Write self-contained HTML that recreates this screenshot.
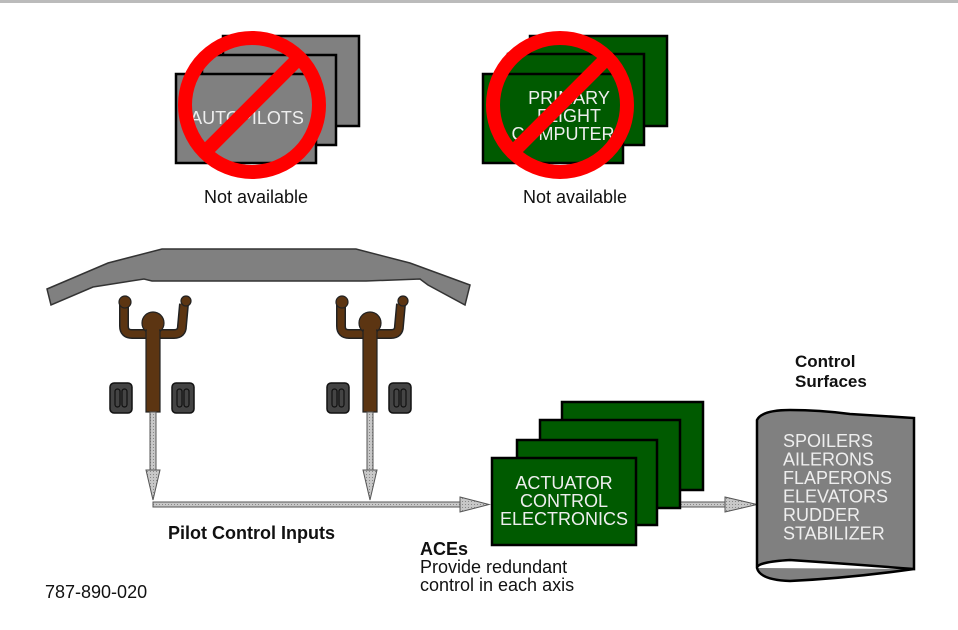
<!DOCTYPE html>
<html><head><meta charset="utf-8"><style>
html,body{margin:0;padding:0;background:#fff;}
svg{display:block;font-family:"Liberation Sans",Arial,sans-serif;}
</style></head><body>
<svg width="958" height="630" viewBox="0 0 958 630" xmlns="http://www.w3.org/2000/svg">
<defs>
<pattern id="dots" width="3" height="3" patternUnits="userSpaceOnUse"><rect width="3" height="3" fill="#c8c8c8"/><rect width="1" height="1" fill="#888"/></pattern>
</defs>
<rect x="0" y="0" width="958" height="3" fill="#bbb"/>

<!-- Autopilots -->
<g stroke="#000" stroke-width="2.5" fill="#808080">
<rect x="223" y="36" width="136" height="90"/>
<rect x="202" y="55" width="134" height="90"/>
<rect x="176" y="74" width="140" height="89"/>
</g>
<text x="247" y="124" fill="#eee" font-size="18" text-anchor="middle">AUTOPILOTS</text>
<g stroke="#f00" stroke-width="14" fill="none">
<circle cx="252" cy="105" r="67"/>
<line x1="204" y1="153" x2="300" y2="57"/>
</g>
<text x="256" y="203" font-size="18" text-anchor="middle" fill="#111">Not available</text>

<!-- PFCs -->
<g stroke="#000" stroke-width="2.5" fill="#005a00">
<rect x="530" y="36" width="137" height="90"/>
<rect x="508" y="54" width="136" height="91"/>
<rect x="483" y="74" width="140" height="89"/>
</g>
<g fill="#eee" font-size="18" text-anchor="middle">
<text x="569" y="104">PRIMARY</text>
<text x="569" y="122">FLIGHT</text>
<text x="569" y="140">COMPUTERS</text>
</g>
<g stroke="#f00" stroke-width="14" fill="none">
<circle cx="560" cy="105" r="67"/>
<line x1="512" y1="153" x2="608" y2="57"/>
</g>
<text x="575" y="203" font-size="18" text-anchor="middle" fill="#111">Not available</text>

<!-- Glare shield -->
<path d="M47,289 L108,263 L162,249 L356,249 L410,263 L470,285 L465,305 L428,285 L420,279 L366,281 L152,281 L144,279 L93,287 L51,305 Z" fill="#808080" stroke="#333" stroke-width="1.5"/>

<!-- Pilots -->
<g id="pilot">
<path d="M124,304 L124,326 Q124,334 132,334 L174,334 Q182,334 182,326 L184,304" fill="none" stroke="#222" stroke-width="10" stroke-linejoin="round"/>
<path d="M124,304 L124,326 Q124,334 132,334 L174,334 Q182,334 182,326 L184,304" fill="none" stroke="#5c3512" stroke-width="7" stroke-linejoin="round"/>
<g fill="#5c3512" stroke="#222" stroke-width="1.2">
<circle cx="125" cy="302" r="6"/>
<circle cx="186" cy="301" r="5"/>
<circle cx="153" cy="323" r="11"/>
<rect x="146" y="330" width="14" height="82"/>
</g>
<rect x="147" y="329" width="12" height="8" fill="#5c3512"/>
<g fill="#444" stroke="#111" stroke-width="1.5">
<rect x="110" y="383" width="22" height="30" rx="4"/>
<rect x="172" y="383" width="22" height="30" rx="4"/>
</g>
<g fill="none" stroke="#111" stroke-width="1.2">
<rect x="115" y="389" width="5" height="18" rx="2.5"/><rect x="122" y="389" width="5" height="18" rx="2.5"/>
<rect x="177" y="389" width="5" height="18" rx="2.5"/><rect x="184" y="389" width="5" height="18" rx="2.5"/>
</g>
</g>
<use href="#pilot" transform="translate(217,0)"/>

<!-- Arrows -->
<g fill="url(#dots)" stroke="#555" stroke-width="1">
<rect x="150" y="412" width="6" height="58"/>
<path d="M146,470 L160,470 L153,500 Z"/>
<rect x="367" y="412" width="6" height="58"/>
<path d="M363,470 L377,470 L370,500 Z"/>
<rect x="153" y="502" width="310" height="5"/>
<path d="M460,497 L489,504.5 L460,512 Z"/>
<rect x="636" y="502" width="92" height="5"/>
<path d="M725,497 L757,504.5 L725,512 Z"/>
</g>

<!-- ACEs -->
<g stroke="#000" stroke-width="2.5" fill="#005a00">
<rect x="562" y="402" width="141" height="88"/>
<rect x="540" y="420" width="140" height="88"/>
<rect x="517" y="440" width="140" height="85"/>
<rect x="492" y="458" width="144" height="87"/>
</g>
<g fill="#eee" font-size="18" text-anchor="middle">
<text x="564" y="489">ACTUATOR</text>
<text x="564" y="507">CONTROL</text>
<text x="564" y="525">ELECTRONICS</text>
</g>

<!-- Control surfaces -->
<path d="M757,568 L757,420 Q762,410 790,410 Q820,410 850,414 L914,418 L914,569 Q850,564 790,560 Q757,562 757,568 Q760,580 790,581 Q850,578 914,569" fill="#808080" stroke="#000" stroke-width="2.5"/>
<g fill="#eee" font-size="18">
<text x="783" y="447">SPOILERS</text>
<text x="783" y="465.5">AILERONS</text>
<text x="783" y="484">FLAPERONS</text>
<text x="783" y="502.5">ELEVATORS</text>
<text x="783" y="521">RUDDER</text>
<text x="783" y="539.5">STABILIZER</text>
</g>

<!-- Labels -->
<g fill="#111" font-size="18">
<text x="795" y="367" font-weight="bold" font-size="17">Control</text>
<text x="795" y="387" font-weight="bold" font-size="17">Surfaces</text>
<text x="168" y="539" font-weight="bold">Pilot Control Inputs</text>
<text x="420" y="555" font-weight="bold">ACEs</text>
<text x="420" y="573">Provide redundant</text>
<text x="420" y="591">control in each axis</text>
<text x="45" y="598">787-890-020</text>
</g>
</svg>
</body></html>
